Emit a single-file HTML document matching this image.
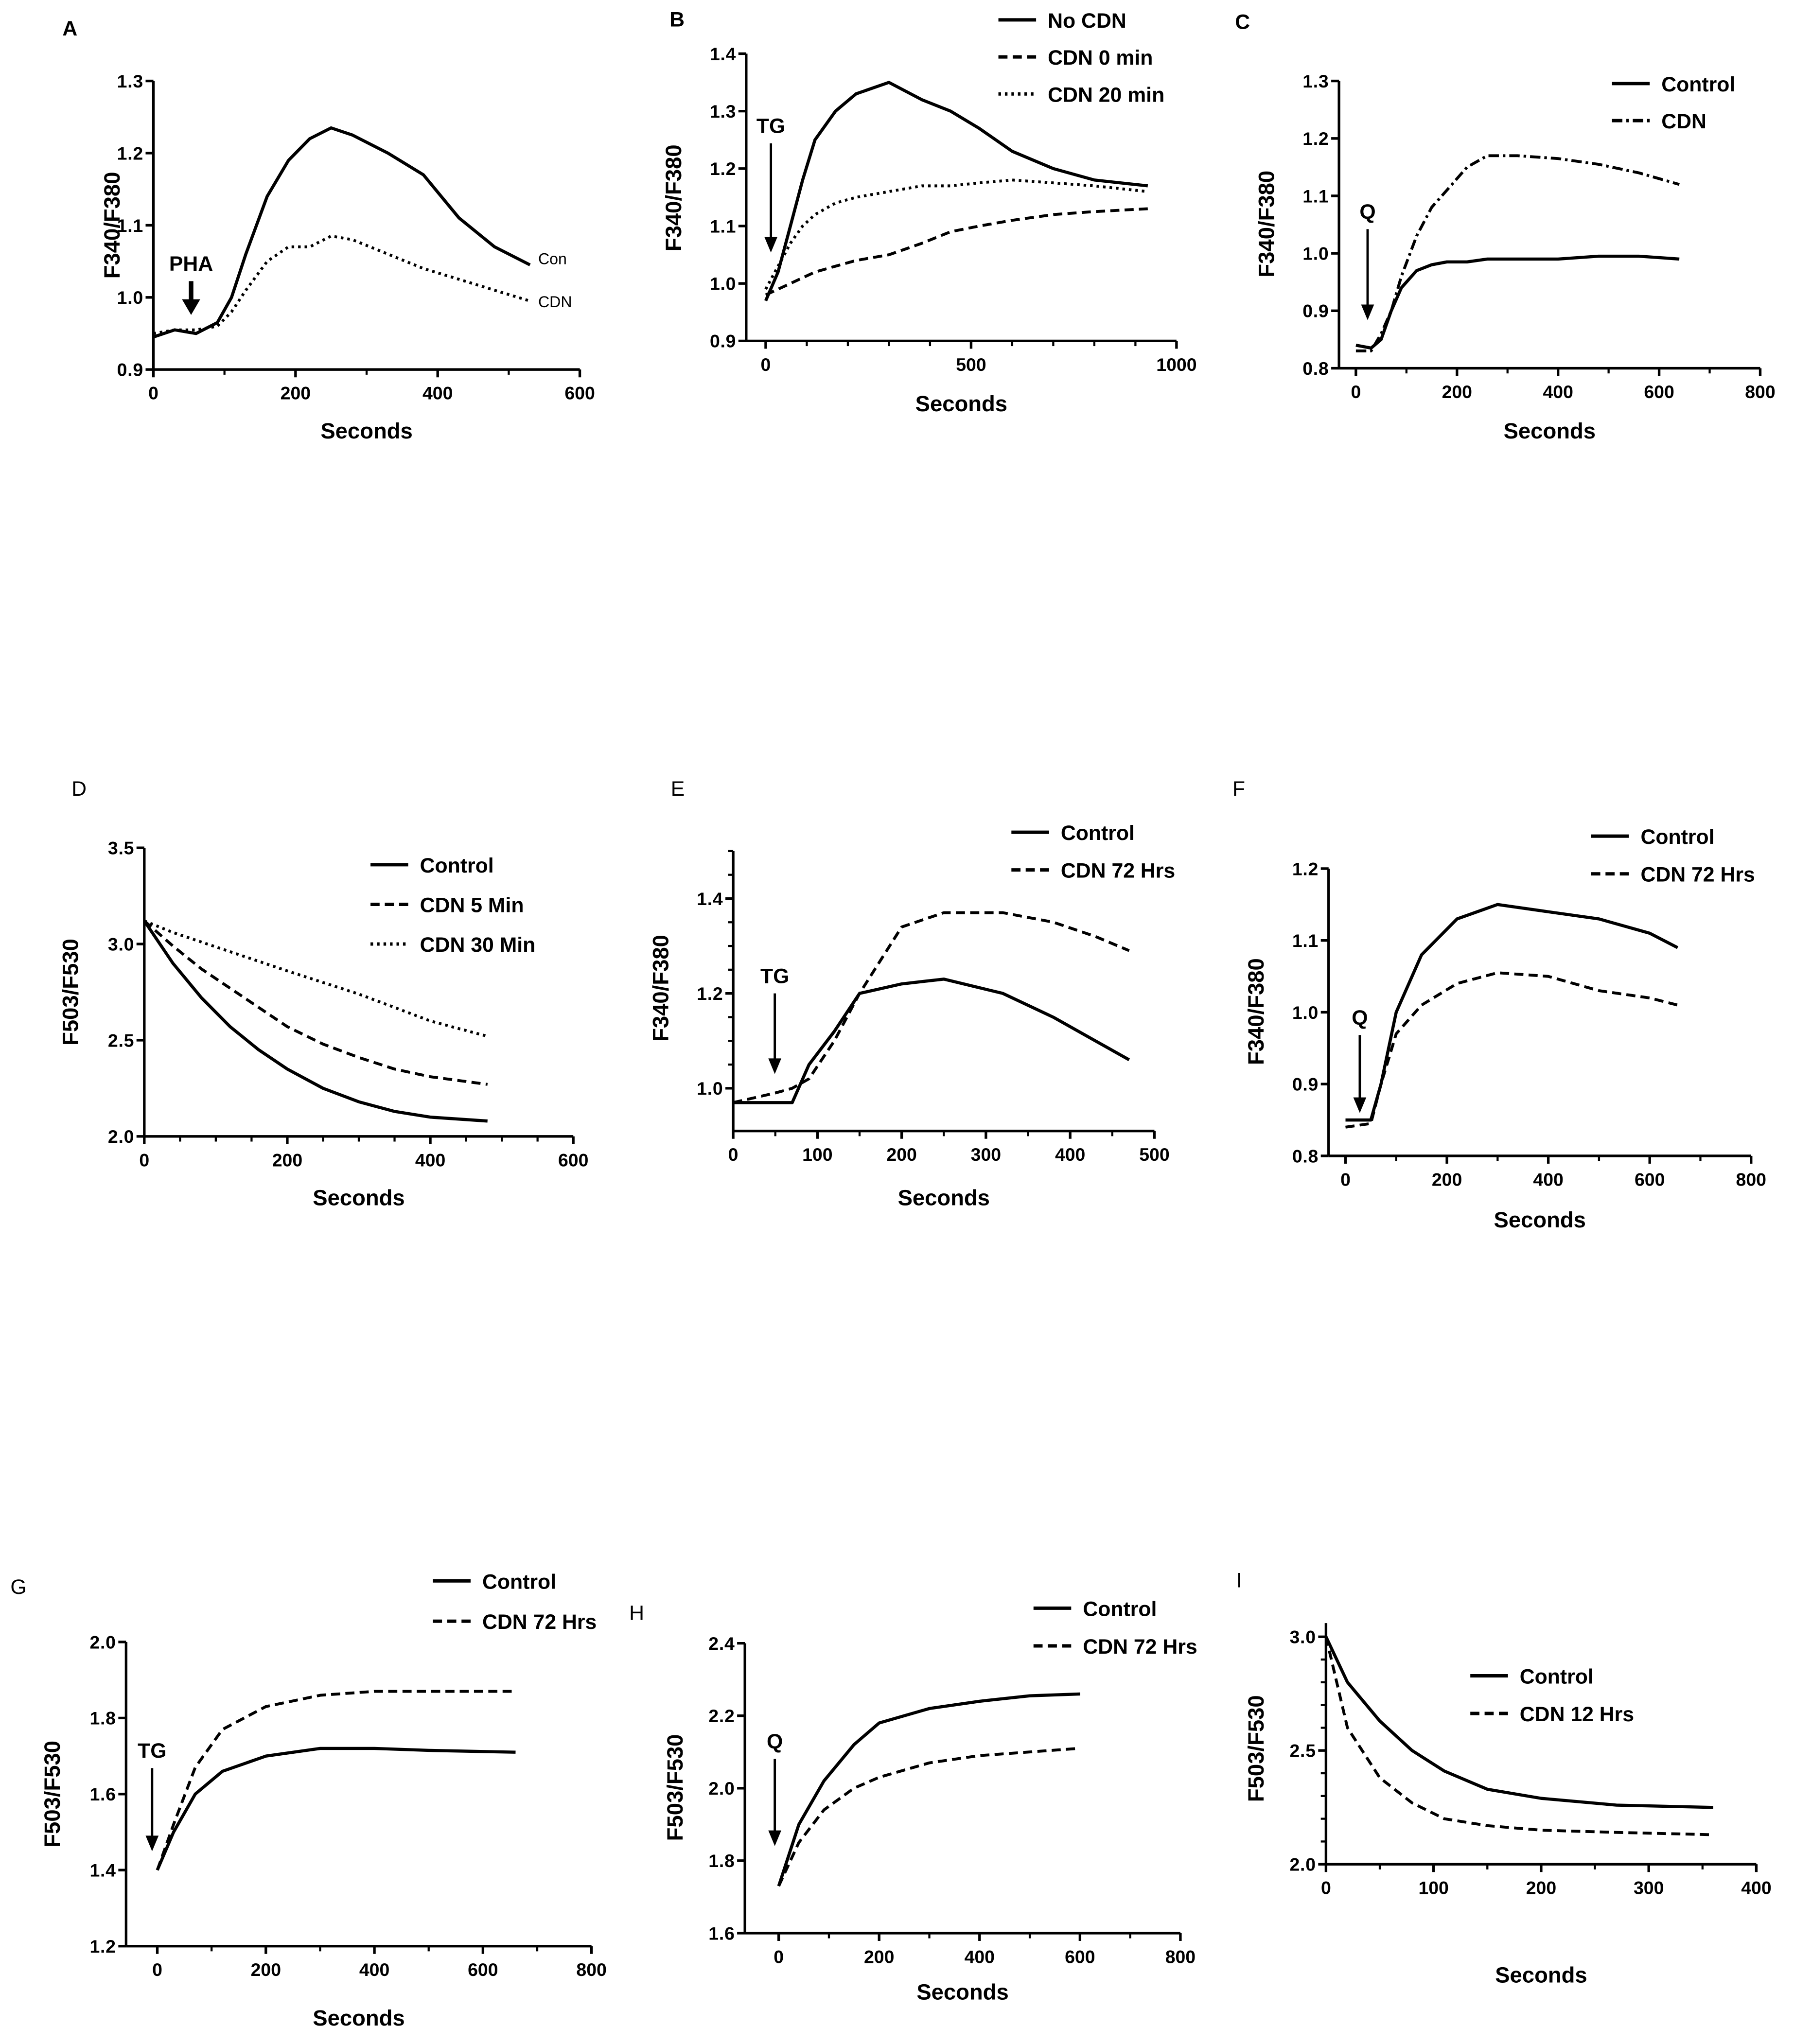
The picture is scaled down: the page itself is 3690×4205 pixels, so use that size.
<!DOCTYPE html>
<html><head><meta charset="utf-8">
<style>
html,body{margin:0;padding:0;background:#fff;}
svg{display:block;}
text{font-family:"Liberation Sans",Arial,sans-serif;fill:#000;}
</style></head>
<body>
<svg id="fig" width="3690" height="4205" viewBox="0 0 1380 1572" xmlns="http://www.w3.org/2000/svg"></svg>
<script>
// ---- data arrays ----
const aX=[0,30,60,90,110,130,160,190,220,250,280,330,380,430,480,530];
const aCon=[0.945,0.955,0.95,0.965,1.0,1.06,1.14,1.19,1.22,1.235,1.225,1.2,1.17,1.11,1.07,1.045];
const aCdn=[0.95,0.955,0.955,0.96,0.98,1.01,1.05,1.07,1.07,1.085,1.08,1.06,1.04,1.025,1.01,0.995];
const bX=[0,30,60,90,120,170,220,300,380,450,520,600,700,800,930];
const bNo=[0.97,1.02,1.1,1.18,1.25,1.3,1.33,1.35,1.32,1.3,1.27,1.23,1.2,1.18,1.17];
const b0=[0.98,0.99,1.0,1.01,1.02,1.03,1.04,1.05,1.07,1.09,1.1,1.11,1.12,1.125,1.13];
const b20=[0.99,1.03,1.07,1.1,1.12,1.14,1.15,1.16,1.17,1.17,1.175,1.18,1.175,1.17,1.16];
const cX=[0,30,50,70,90,120,150,180,220,260,320,400,480,560,640];
const cCon=[0.84,0.835,0.85,0.9,0.94,0.97,0.98,0.985,0.985,0.99,0.99,0.99,0.995,0.995,0.99];
const cCdn=[0.83,0.83,0.86,0.9,0.96,1.03,1.08,1.11,1.15,1.17,1.17,1.165,1.155,1.14,1.12];
const dX=[0,40,80,120,160,200,250,300,350,400,480];
const dCon=[3.12,2.9,2.72,2.57,2.45,2.35,2.25,2.18,2.13,2.1,2.08];
const d5=[3.12,2.99,2.87,2.77,2.67,2.57,2.48,2.41,2.35,2.31,2.27];
const d30=[3.12,3.06,3.01,2.96,2.91,2.86,2.8,2.74,2.67,2.6,2.52];
const eX=[0,50,70,90,120,150,200,250,320,380,430,470];
const eCon=[0.97,0.97,0.97,1.05,1.12,1.2,1.22,1.23,1.2,1.15,1.1,1.06];
const eCdn=[0.97,0.99,1.0,1.02,1.1,1.2,1.34,1.37,1.37,1.35,1.32,1.29];
const fX=[0,50,70,100,150,220,300,400,500,600,655];
const fCon=[0.85,0.85,0.9,1.0,1.08,1.13,1.15,1.14,1.13,1.11,1.09];
const fCdn=[0.84,0.845,0.9,0.97,1.01,1.04,1.055,1.05,1.03,1.02,1.01];
const gX=[0,30,70,120,200,300,400,500,660];
const gCon=[1.4,1.5,1.6,1.66,1.7,1.72,1.72,1.715,1.71];
const gCdn=[1.4,1.52,1.67,1.77,1.83,1.86,1.87,1.87,1.87];
const hX=[0,40,90,150,200,300,400,500,600];
const hCon=[1.73,1.9,2.02,2.12,2.18,2.22,2.24,2.255,2.26];
const hCdn=[1.73,1.85,1.94,2.0,2.03,2.07,2.09,2.1,2.11];
const iX=[0,20,50,80,110,150,200,270,360];
const iCon=[3.0,2.8,2.63,2.5,2.41,2.33,2.29,2.26,2.25];
const iCdn=[3.0,2.6,2.38,2.27,2.2,2.17,2.15,2.14,2.13];

const svg=document.getElementById('fig');
const NS='http://www.w3.org/2000/svg';
function el(tag,attrs,parent){const e=document.createElementNS(NS,tag);for(const k in attrs)e.setAttribute(k,attrs[k]);(parent||svg).appendChild(e);return e;}
function txt(s,x,y,size,weight,anchor,parent,rot){const t=el('text',{x:x,y:y,'font-size':size,'font-weight':weight||'normal','text-anchor':anchor||'start'},parent);if(rot)t.setAttribute('transform','rotate(-90 '+x+' '+y+')');t.textContent=s;return t;}
const dashes={solid:'',dash:'7 4',dot:'2 3',dashdot:'8 3 2 3'};

function panel(cfg){
  const g=el('g',{});
  
  
  const sx=v=>cfg.px0+(v-cfg.x0)/(cfg.x1-cfg.x0)*(cfg.px1-cfg.px0);
  const sy=v=>cfg.py0+(v-cfg.y0)/(cfg.y1-cfg.y0)*(cfg.py1-cfg.py0);
  const axisLeft=cfg.axisLeft||sx(cfg.x0);
  const yb=sy(cfg.yAxisMin), yt=sy(cfg.yAxisMax);
  const xEnd=sx(cfg.xt[cfg.xt.length-1]);
  const ya=el('line',{x1:axisLeft,y1:yb,x2:axisLeft,y2:yt,stroke:'#000','stroke-width':2},g);
  
  const xa=el('line',{x1:axisLeft,y1:yb,x2:xEnd,y2:yb,stroke:'#000','stroke-width':2},g);
  
  if(cfg.xMinor){for(let v=cfg.xt[0];v<=cfg.xt[cfg.xt.length-1]+1e-9;v+=cfg.xMinor){el('line',{x1:sx(v),y1:yb,x2:sx(v),y2:yb+4,stroke:'#000','stroke-width':1.6},g);}}
  if(cfg.yMinor){for(let v=cfg.yt[0];v<=cfg.yAxisMax+1e-9;v+=cfg.yMinor){el('line',{x1:axisLeft-4,y1:sy(v),x2:axisLeft,y2:sy(v),stroke:'#000','stroke-width':1.6},g);}}
  cfg.yt.forEach(v=>{el('line',{x1:axisLeft-6,y1:sy(v),x2:axisLeft,y2:sy(v),stroke:'#000','stroke-width':2},g);
    const t=txt(v.toFixed(1),axisLeft-8,sy(v)+5,14,'bold','end',g);
    t.setAttribute('textLength','20');
    });
  cfg.xt.forEach(v=>{el('line',{x1:sx(v),y1:yb,x2:sx(v),y2:yb+6,stroke:'#000','stroke-width':2},g);
    const t=txt(String(v),sx(v),yb+23,14,'bold','middle',g);
    });
  const xl=txt('Seconds',(axisLeft+xEnd)/2,cfg.xlY,17,'bold','middle',g);
  
  const yl=txt(cfg.ylab,cfg.ylX,cfg.ylY,17,'bold','middle',g,true);
  
  const pl=txt(cfg.id,cfg.idX,cfg.idY,16,cfg.idBold?'bold':'normal','start',g);
  
  cfg.series.forEach((s,si)=>{
    const pts=s.xs.map((x,i)=>sx(x).toFixed(1)+','+sy(s.ys[i]).toFixed(1)).join(' ');
    const p=el('polyline',{points:pts,fill:'none',stroke:'#000','stroke-width':s.style==='solid'?2.4:2.2,'stroke-dasharray':dashes[s.style],'stroke-linejoin':'round'},g);
    
    
    if(cfg.leg){
      const ly=cfg.leg.y+si*cfg.leg.dy;
      const ll=el('line',{x1:cfg.leg.x,y1:ly-6,x2:cfg.leg.x+29,y2:ly-6,stroke:'#000','stroke-width':2.6,'stroke-dasharray':dashes[s.style]},g);
      
      const lt=txt(s.name,cfg.leg.x+38,ly,16,'bold','start',g);
      
    }
  });
  if(cfg.inline){cfg.inline.forEach(l=>{const t=txt(l.t,l.x,l.y,12,'normal','start',g);
    });}
  if(cfg.arrow){const a=cfg.arrow;
    const al=el('line',{x1:a.x,y1:a.y1,x2:a.x,y2:a.y2-8,stroke:'#000','stroke-width':a.w},g);
    
    el('polygon',{points:(a.x-a.h)+','+(a.y2-12)+' '+(a.x+a.h)+','+(a.y2-12)+' '+a.x+','+a.y2},g);
    const at=txt(a.t,a.x,a.y1-8,16,'bold','middle',g);
    }
}

panel({id:'A',idX:48,idY:27,idBold:true,x0:0,x1:600,px0:118,px1:446,y0:0.9,y1:1.3,py0:284,py1:62,yAxisMin:0.9,yAxisMax:1.3,
 yt:[0.9,1.0,1.1,1.2,1.3],xt:[0,200,400,600],xMinor:100,xlY:337,ylab:'F340/F380',ylX:92,ylY:173,
 series:[{name:'Con',xs:aX,ys:aCon,style:'solid'},{name:'CDN',xs:aX,ys:aCdn,style:'dot'}],
 inline:[{t:'Con',x:414,y:203},{t:'CDN',x:414,y:236}],arrow:{x:147,y1:216,y2:242,w:3.5,h:7,t:'PHA'}});
panel({id:'B',idX:515,idY:20,idBold:true,x0:0,x1:1000,px0:589,px1:905,axisLeft:574,y0:0.9,y1:1.4,py0:262,py1:41,yAxisMin:0.9,yAxisMax:1.4,
 yt:[0.9,1.0,1.1,1.2,1.3,1.4],xt:[0,500,1000],xMinor:100,xlY:316,ylab:'F340/F380',ylX:524,ylY:152,
 leg:{x:768,y:21,dy:28.5},
 series:[{name:'No  CDN',xs:bX,ys:bNo,style:'solid'},{name:'CDN 0 min',xs:bX,ys:b0,style:'dash'},{name:'CDN 20 min',xs:bX,ys:b20,style:'dot'}],
 arrow:{x:593,y1:110,y2:194,w:1.8,h:5,t:'TG'}});
panel({id:'C',idX:950,idY:22,idBold:true,x0:0,x1:800,px0:1043,px1:1354,axisLeft:1030,y0:0.8,y1:1.3,py0:283,py1:62,yAxisMin:0.8,yAxisMax:1.3,
 yt:[0.8,0.9,1.0,1.1,1.2,1.3],xt:[0,200,400,600,800],xMinor:100,xlY:337,ylab:'F340/F380',ylX:980,ylY:172,
 leg:{x:1240,y:70,dy:28.5},
 series:[{name:'Control',xs:cX,ys:cCon,style:'solid'},{name:'CDN',xs:cX,ys:cCdn,style:'dashdot'}],
 arrow:{x:1052,y1:176,y2:246,w:1.8,h:5,t:'Q'}});
panel({id:'D',idX:55,idY:612,x0:0,x1:600,px0:111,px1:441,y0:2.0,y1:3.5,py0:874,py1:652,yAxisMin:2.0,yAxisMax:3.5,
 yt:[2.0,2.5,3.0,3.5],xt:[0,200,400,600],xMinor:50,xlY:927,ylab:'F503/F530',ylX:60,ylY:763,
 leg:{x:285,y:671,dy:30.5},
 series:[{name:'Control',xs:dX,ys:dCon,style:'solid'},{name:'CDN 5 Min',xs:dX,ys:d5,style:'dash'},{name:'CDN 30 Min',xs:dX,ys:d30,style:'dot'}]});
panel({id:'E',idX:516,idY:612,x0:0,x1:500,px0:564,px1:888,y0:1.0,y1:1.4,py0:837,py1:691,yAxisMin:0.91,yAxisMax:1.5,
 yt:[1.0,1.2,1.4],yMinor:0.05,xt:[0,100,200,300,400,500],xMinor:50,xlY:927,ylab:'F340/F380',ylX:514,ylY:760,
 leg:{x:778,y:646,dy:29},
 series:[{name:'Control',xs:eX,ys:eCon,style:'solid'},{name:'CDN 72 Hrs',xs:eX,ys:eCdn,style:'dash'}],
 arrow:{x:596,y1:764,y2:826,w:1.8,h:5,t:'TG'}});
panel({id:'F',idX:948,idY:612,x0:0,x1:800,px0:1035,px1:1347,axisLeft:1022,y0:0.8,y1:1.2,py0:889,py1:668,yAxisMin:0.8,yAxisMax:1.2,
 yt:[0.8,0.9,1.0,1.1,1.2],xt:[0,200,400,600,800],xMinor:100,xlY:944,ylab:'F340/F380',ylX:972,ylY:778,
 leg:{x:1224,y:649,dy:29},
 series:[{name:'Control',xs:fX,ys:fCon,style:'solid'},{name:'CDN 72  Hrs',xs:fX,ys:fCdn,style:'dash'}],
 arrow:{x:1046,y1:796,y2:856,w:1.8,h:5,t:'Q'}});
panel({id:'G',idX:8,idY:1226,x0:0,x1:800,px0:121,px1:455,axisLeft:97,y0:1.2,y1:2.0,py0:1497,py1:1263,yAxisMin:1.2,yAxisMax:2.0,
 yt:[1.2,1.4,1.6,1.8,2.0],xt:[0,200,400,600,800],xMinor:100,xlY:1558,ylab:'F503/F530',ylX:46,ylY:1380,
 leg:{x:333,y:1222,dy:31},
 series:[{name:'Control',xs:gX,ys:gCon,style:'solid'},{name:'CDN 72 Hrs',xs:gX,ys:gCdn,style:'dash'}],
 arrow:{x:117,y1:1360,y2:1424,w:1.8,h:5,t:'TG'}});
panel({id:'H',idX:484,idY:1246,x0:0,x1:800,px0:599,px1:908,axisLeft:573,y0:1.6,y1:2.4,py0:1487,py1:1264,yAxisMin:1.6,yAxisMax:2.4,
 yt:[1.6,1.8,2.0,2.2,2.4],xt:[0,200,400,600,800],xMinor:100,xlY:1538,ylab:'F503/F530',ylX:525,ylY:1375,
 leg:{x:795,y:1243,dy:29},
 series:[{name:'Control',xs:hX,ys:hCon,style:'solid'},{name:'CDN 72 Hrs',xs:hX,ys:hCdn,style:'dash'}],
 arrow:{x:596,y1:1353,y2:1420,w:1.8,h:5,t:'Q'}});
panel({id:'I',idX:951,idY:1221,x0:0,x1:400,px0:1020,px1:1351,y0:2.0,y1:3.0,py0:1434,py1:1259,yAxisMin:2.0,yAxisMax:3.06,
 yt:[2.0,2.5,3.0],yMinor:0.1,xt:[0,100,200,300,400],xMinor:50,xlY:1525,ylab:'F503/F530',ylX:972,ylY:1345,
 leg:{x:1131,y:1295,dy:29},
 series:[{name:'Control',xs:iX,ys:iCon,style:'solid'},{name:'CDN 12 Hrs',xs:iX,ys:iCdn,style:'dash'}]});
</script>
</body></html>
